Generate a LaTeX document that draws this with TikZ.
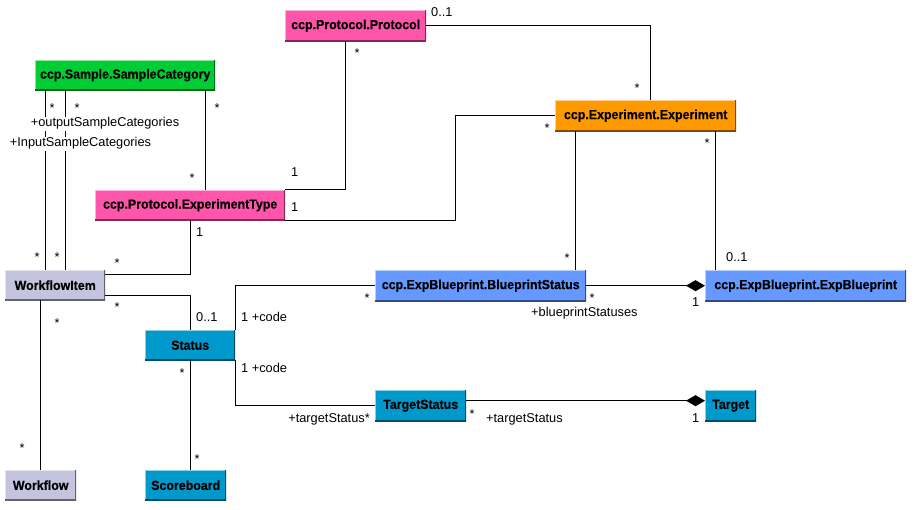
\documentclass[tikz,border=0pt]{standalone}
\usepackage{fontspec}
\setmainfont{Liberation Sans}
\newfontfamily\classfont[FakeStretch=0.94, BoldFeatures={FakeBold=0.4}]{Liberation Sans}
\usetikzlibrary{arrows.meta}

\definecolor{sampgreen}{RGB}{0,204,51}
\definecolor{protpink}{RGB}{255,85,170}
\definecolor{exporange}{RGB}{255,153,0}
\definecolor{bpblue}{RGB}{102,153,255}
\definecolor{statteal}{RGB}{0,153,204}
\definecolor{wflav}{RGB}{196,196,222}

\begin{document}
\begin{tikzpicture}[x=1pt,y=-1pt,
  umlclass/.style={anchor=north west, inner sep=0pt, fill=#1, text=black,
    font=\classfont\fontsize{13.2}{15}\selectfont\bfseries,
    path picture={
      \draw[#1!45!white, line width=2pt]
        (path picture bounding box.south west) -- (path picture bounding box.north west)
        -- (path picture bounding box.north east);
      \draw[#1!50!black, line width=3pt]
        (path picture bounding box.north east) -- (path picture bounding box.south east)
        -- (path picture bounding box.south west);
    }},
  conn/.style={draw=black, line width=1pt},
  comp/.style={conn, -{Diamond[length=19pt,width=11pt]}},
  lbl/.style={font=\fontsize{12.8}{15}\selectfont, inner sep=0pt, anchor=base},
  lblw/.style={lbl, anchor=base west},
  lble/.style={lbl, anchor=base east},
  rolebg/.style={lbl, fill=white, inner xsep=1pt, inner ysep=1pt}
]
\fill[white] (0,0) rectangle (915,510);
\useasboundingbox (0,0) rectangle (915,510);

% classes
\node[umlclass=sampgreen, minimum width=180pt, minimum height=30pt] (samplecat) at (35,60) {ccp.Sample.SampleCategory};
\node[umlclass=protpink, minimum width=190pt, minimum height=30pt] (exptype) at (95,190) {ccp.Protocol.ExperimentType};
\node[umlclass=protpink, minimum width=141pt, minimum height=31pt] (protocol) at (285,10) {ccp.Protocol.Protocol};
\node[umlclass=exporange, minimum width=181pt, minimum height=31pt] (experiment) at (555,100) {ccp.Experiment.Experiment};
\node[umlclass=wflav, minimum width=100pt, minimum height=30pt] (wfitem) at (5,270) {WorkflowItem};
\node[umlclass=wflav, minimum width=71pt, minimum height=30pt] (workflow) at (5,470) {Workflow};
\node[umlclass=bpblue, minimum width=211pt, minimum height=31pt] (bpstatus) at (375,270) {ccp.ExpBlueprint.BlueprintStatus};
\node[umlclass=bpblue, minimum width=201pt, minimum height=31pt] (expbp) at (705,270) {ccp.ExpBlueprint.ExpBlueprint};
\node[umlclass=statteal, minimum width=90pt, minimum height=30pt] (status) at (145,330) {Status};
\node[umlclass=statteal, minimum width=81pt, minimum height=30pt] (scoreboard) at (145,470) {Scoreboard};
\node[umlclass=statteal, minimum width=91pt, minimum height=31pt] (tstatus) at (375,390) {TargetStatus};
\node[umlclass=statteal, minimum width=51pt, minimum height=31pt] (target) at (705,390) {Target};

% associations
\draw[conn] ([xshift=10pt]samplecat.south west) coordinate (sc1) -- (sc1 |- wfitem.north);
\draw[conn] ([xshift=30pt]samplecat.south west) coordinate (sc2) -- (sc2 |- wfitem.north);
\draw[conn] ([xshift=-10pt]samplecat.south east) coordinate (sc3) -- (sc3 |- exptype.north);
\draw[conn] ([xshift=60pt]protocol.south west) |- (exptype.north east);
\draw[conn] (exptype.south east) -- ([xshift=170pt]exptype.south east) |- (experiment.west);
\draw[conn] (protocol.east) -| ([xshift=-86pt]experiment.north east);
\draw[conn] ([xshift=20pt]experiment.south west) coordinate (ex1) -- (ex1 |- bpstatus.north);
\draw[conn] ([xshift=-21pt]experiment.south east) coordinate (ex2) -- (ex2 |- expbp.north);
\draw[comp] (bpstatus.east) -- (expbp.west);
\draw[conn] ([yshift=-5pt]wfitem.north east) -| (exptype.south);
\draw[conn] ([yshift=5pt]wfitem.south east) -| (status.north);
\draw[conn] (wfitem.south -| workflow.north) -- (workflow.north);
\draw[conn] (status.south) -- (status.south |- scoreboard.north);
\draw[conn] (status.north east) |- (bpstatus.west);
\draw[conn] (status.south east) |- (tstatus.west);
\draw[comp] ([yshift=5pt]tstatus.east) -- ([yshift=5pt]target.west);

% role names
\node[rolebg] (outcat) at (105,127) {+outputSampleCategories};
\node[rolebg] (incat) at (80.5,147) {+InputSampleCategories};
\node[lblw] (bpsrole) at (531,317) {+blueprintStatuses};
\node[lblw] (tsrole) at (486,422) {+targetStatus};
\node[lble] (tsrole2) at (370,422) {+targetStatus*};
\node[lblw] (code1) at (241,322) {1 +code};
\node[lblw] (code2) at (241,372) {1 +code};

% multiplicities
\node[lblw] (m01a) at (431,17) {0..1};
\node[lblw] (m1a) at (291,177) {1};
\node[lblw] (m1b) at (291,212) {1};
\node[lblw] (m1c) at (196,237) {1};
\node[lblw] (m01b) at (196,322) {0..1};
\node[lblw] (m01c) at (726,262) {0..1};
\node[lblw] (m1d) at (692,307) {1};
\node[lblw] (m1e) at (692,422) {1};

\node[lbl] (s1) at (52,112.4) {*};
\node[lbl] (s2) at (77,112.4) {*};
\node[lbl] (s3) at (217,112.4) {*};
\node[lbl] (s4) at (192,183) {*};
\node[lbl] (s5) at (357,58) {*};
\node[lbl] (s6) at (637,93) {*};
\node[lbl] (s7) at (547,133) {*};
\node[lbl] (s8) at (707,148) {*};
\node[lbl] (s9) at (567,263) {*};
\node[lbl] (s10) at (592,303) {*};
\node[lbl] (s11) at (37,262) {*};
\node[lbl] (s12) at (57,262) {*};
\node[lbl] (s13) at (117,268) {*};
\node[lbl] (s14) at (117,312) {*};
\node[lbl] (s15) at (57,328) {*};
\node[lbl] (s16) at (22,452) {*};
\node[lbl] (s17) at (182,377) {*};
\node[lbl] (s18) at (197,463) {*};
\node[lbl] (s19) at (367,303) {*};
\node[lbl] (s20) at (472,418) {*};
\end{tikzpicture}
\end{document}
